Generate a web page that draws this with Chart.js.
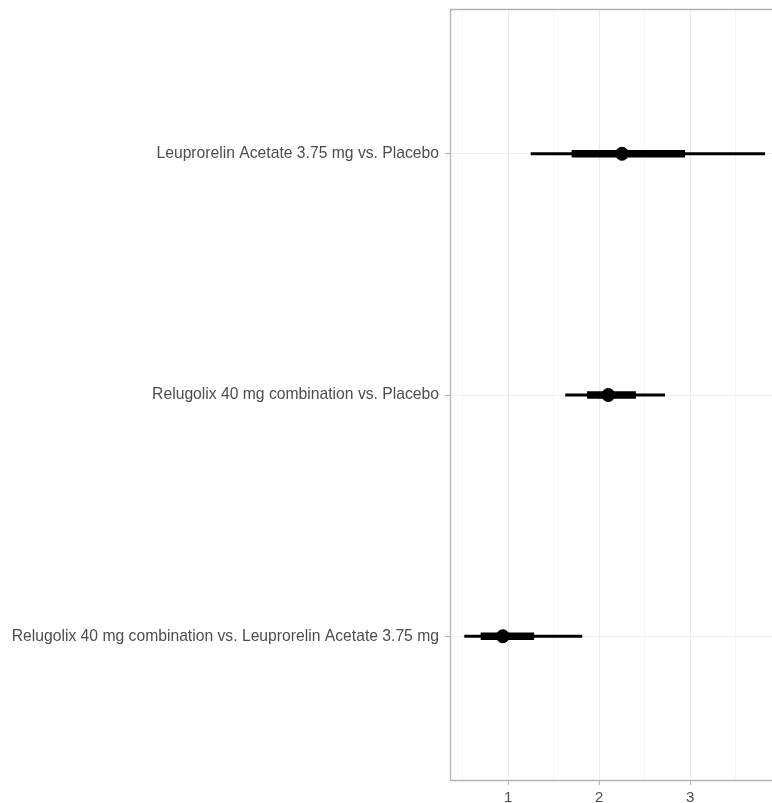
<!DOCTYPE html>
<html>
<head>
<meta charset="utf-8">
<script src="https://cdn.jsdelivr.net/npm/chart.js@4/dist/chart.umd.min.js"></script>
<style>
  html, body { margin: 0; padding: 0; background: #ffffff; }
  #wrap { width: 772px; height: 803px; }
</style>
</head>
<body>
<div id="wrap"><canvas id="c" width="772" height="803"></canvas></div>
<script>
const comparisons = [
  "Leuprorelin Acetate 3.75 mg vs. Placebo",
  "Relugolix 40 mg combination vs. Placebo",
  "Relugolix 40 mg combination vs. Leuprorelin Acetate 3.75 mg"
];
const estimates = [2.25, 2.10, 0.94];
const outerLow  = [1.25, 1.63, 0.52];
const outerHigh = [3.82, 2.72, 1.81];
const innerLow  = [1.70, 1.87, 0.70];
const innerHigh = [2.94, 2.40, 1.28];
const xTickLabels = ["1", "2", "3"];

const idx = comparisons.map((_, i) => i);

const borderPlugin = {
  id: 'panelBorder',
  afterDatasetsDraw(chart) {
    const a = chart.chartArea, ctx = chart.ctx;
    ctx.save();
    ctx.strokeStyle = '#b3b3b3';
    ctx.lineWidth = 1.3;
    ctx.beginPath();
    ctx.moveTo(a.right + 2, a.top + 0.5);
    ctx.lineTo(a.left + 0.5, a.top + 0.5);
    ctx.lineTo(a.left + 0.5, a.bottom - 0.5);
    ctx.lineTo(a.right + 2, a.bottom - 0.5);
    ctx.stroke();
    ctx.restore();
  }
};

new Chart(document.getElementById('c'), {
  type: 'bar',
  data: {
    datasets: [
      {
        type: 'bar',
        data: idx.map(i => ({ x: [outerLow[i], outerHigh[i]], y: i })),
        backgroundColor: '#000000',
        barThickness: 2.5,
        grouped: false,
        order: 3
      },
      {
        type: 'bar',
        data: idx.map(i => ({ x: [innerLow[i], innerHigh[i]], y: i })),
        backgroundColor: '#000000',
        barThickness: 7,
        grouped: false,
        order: 2
      },
      {
        type: 'scatter',
        data: idx.map(i => ({ x: estimates[i], y: i })),
        backgroundColor: '#000000',
        borderColor: '#000000',
        pointRadius: 6.5,
        order: 1
      }
    ]
  },
  options: {
    indexAxis: 'y',
    responsive: false,
    animation: false,
    layout: { autoPadding: false, padding: { top: 9, left: 0, right: 0, bottom: 0 } },
    plugins: { legend: { display: false }, tooltip: { enabled: false } },
    scales: {
      x: {
        type: 'linear',
        min: 0.359,
        max: 3.9,
        offset: false,
        afterFit(s) { s.height = 22; s.paddingLeft = 0; s.paddingRight = 0; },
        border: { display: false },
        grid: {
          offset: false,
          color: c => (Number.isInteger(c.tick.value) ? '#ebebeb' : '#f6f6f6'),
          lineWidth: 1,
          tickLength: 4,
          tickColor: c => (Number.isInteger(c.tick.value) ? '#b3b3b3' : 'rgba(0,0,0,0)')
        },
        ticks: {
          stepSize: 0.5,
          includeBounds: false,
          padding: 4,
          color: '#4d4d4d',
          font: { family: 'Liberation Sans, Arial, sans-serif', size: 15 },
          maxRotation: 0,
          autoSkip: false,
          callback: v => (Number.isInteger(v) ? xTickLabels[v - 1] : '')
        }
      },
      y: {
        type: 'linear',
        min: -0.6,
        max: 2.6,
        reverse: true,
        offset: false,
        afterBuildTicks(s) { s.ticks = idx.map(i => ({ value: i })); },
        afterFit(s) { s.width = 450; s.paddingTop = 0; s.paddingBottom = 0; },
        border: { display: false },
        grid: {
          offset: false,
          color: '#efefef',
          lineWidth: 1,
          tickLength: 5,
          tickColor: '#b3b3b3'
        },
        ticks: {
          padding: 6,
          color: '#4d4d4d',
          font: { family: 'Liberation Sans, Arial, sans-serif', size: 15.7 },
          autoSkip: false,
          callback: v => comparisons[v]
        }
      }
    }
  },
  plugins: [borderPlugin]
});
</script>
</body>
</html>
